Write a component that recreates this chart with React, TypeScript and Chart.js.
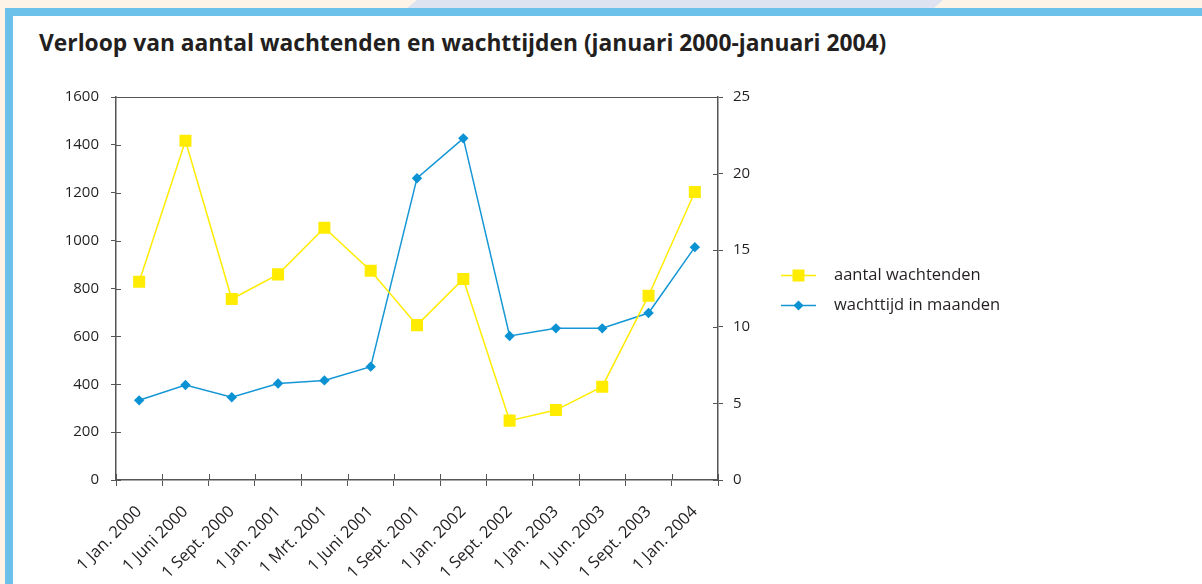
import React, { useEffect, useRef } from 'react';
import { Chart, registerables } from 'chart.js';

Chart.register(...registerables);

const categories = [
  '1 Jan. 2000', '1 Juni 2000', '1 Sept. 2000', '1 Jan. 2001', '1 Mrt. 2001', '1 Juni 2001',
  '1 Sept. 2001', '1 Jan. 2002', '1 Sept. 2002', '1 Jan. 2003', '1 Jun. 2003', '1 Sept. 2003', '1 Jan. 2004',
];
const aantalWachtenden = [828, 1417, 756, 859, 1054, 874, 647, 840, 248, 292, 390, 770, 1203];
const wachttijdInMaanden = [5.2, 6.2, 5.4, 6.3, 6.5, 7.4, 19.7, 22.3, 9.4, 9.9, 9.9, 10.9, 15.2];
const leftAxis = { min: 0, max: 1600, step: 200 };
const rightAxis = { min: 0, max: 25, step: 5 };
const seriesLabels = ['aantal wachtenden', 'wachttijd in maanden'];
const title = 'Verloop van aantal wachtenden en wachttijden (januari 2000-januari 2004)';

const AXIS = '#555555';
const TEXT = '#231f20';
const YELLOW = '#ffec00';
const BLUE = '#1597d5';
const FONT = "'Open Sans', 'Noto Sans', sans-serif";

const framePlugin = {
  id: 'framePlugin',
  afterDraw(chart: any) {
    const { ctx, chartArea, scales } = chart;
    const { left, right, top, bottom } = chartArea;
    ctx.save();
    ctx.strokeStyle = AXIS;
    ctx.lineWidth = 1;
    ctx.beginPath();
    ctx.moveTo(left, top + 0.5);
    ctx.lineTo(right, top + 0.5);
    const y = scales.y;
    y.ticks.forEach((_t: any, i: number) => {
      const py = Math.round(y.getPixelForTick(i)) + 0.5;
      ctx.moveTo(left, py);
      ctx.lineTo(left + 5, py);
    });
    const y1 = scales.y1;
    y1.ticks.forEach((_t: any, i: number) => {
      const py = Math.round(y1.getPixelForTick(i)) + 0.5;
      ctx.moveTo(right, py);
      ctx.lineTo(right - 5, py);
    });
    const x = scales.x;
    for (let i = 0; i <= categories.length; i++) {
      const px = Math.round(x.getPixelForValue(i - 0.5)) + 0.5;
      ctx.moveTo(px, bottom);
      ctx.lineTo(px, bottom - 6);
    }
    ctx.stroke();

    // legend
    const lx = right + 63;
    const ly0 = (top + bottom) / 2 - 13;
    chart.data.datasets.forEach((ds: any, i: number) => {
      const ly = ly0 + i * 30;
      ctx.strokeStyle = ds.borderColor;
      ctx.lineWidth = 1.5;
      ctx.beginPath();
      ctx.moveTo(lx, ly);
      ctx.lineTo(lx + 35, ly);
      ctx.stroke();
      ctx.fillStyle = ds.pointBackgroundColor;
      const cx = lx + 17.5;
      ctx.beginPath();
      if (ds.pointStyle === 'rect') {
        ctx.rect(cx - 6, ly - 6, 12, 12);
      } else {
        ctx.moveTo(cx, ly - 5);
        ctx.lineTo(cx + 5, ly);
        ctx.lineTo(cx, ly + 5);
        ctx.lineTo(cx - 5, ly);
        ctx.closePath();
      }
      ctx.fill();
      ctx.fillStyle = TEXT;
      ctx.font = `16.5px ${FONT}`;
      ctx.textAlign = 'left';
      ctx.textBaseline = 'middle';
      ctx.fillText(ds.label, lx + 53, ly);
    });
    ctx.restore();
  },
};

export default function App() {
  const ref = useRef<HTMLCanvasElement | null>(null);

  useEffect(() => {
    if (!ref.current) return;
    const tickFont = { family: FONT, size: 15 };
    const chart = new Chart(ref.current, {
      type: 'line',
      data: {
        labels: categories,
        datasets: [
          {
            label: seriesLabels[0],
            data: aantalWachtenden,
            yAxisID: 'y',
            borderColor: YELLOW,
            backgroundColor: YELLOW,
            pointBackgroundColor: YELLOW,
            borderWidth: 1.5,
            pointStyle: 'rect',
            pointRadius: 8.5,
            pointBorderWidth: 0,
            tension: 0,
          },
          {
            label: seriesLabels[1],
            data: wachttijdInMaanden,
            yAxisID: 'y1',
            borderColor: BLUE,
            backgroundColor: BLUE,
            pointBackgroundColor: '#0a92d3',
            borderWidth: 1.5,
            pointStyle: 'rectRot',
            pointRadius: 5.2,
            pointBorderWidth: 0,
            tension: 0,
          },
        ],
      },
      options: {
        animation: false,
        responsive: false,
        maintainAspectRatio: false,
        layout: { padding: { top: 97, right: 1202 - 718 - 60, left: 0, bottom: 0 } },
        plugins: { legend: { display: false }, tooltip: { enabled: false }, title: { display: false } },
        scales: {
          x: {
            type: 'category',
            offset: true,
            grid: { offset: true, drawOnChartArea: false, tickLength: 6, color: AXIS, lineWidth: 1 },
            border: { display: true, color: AXIS, width: 1.5 },
            ticks: { minRotation: 45, maxRotation: 45, autoSkip: false, color: TEXT, font: { family: FONT, size: 16.5 }, padding: 16 },
            afterFit: (s: any) => { s.height = 104; },
          },
          y: {
            position: 'left',
            min: leftAxis.min,
            max: leftAxis.max,
            grid: { drawOnChartArea: false, tickLength: 5, color: AXIS, lineWidth: 1 },
            border: { display: true, color: AXIS, width: 1.5 },
            ticks: { stepSize: leftAxis.step, color: TEXT, font: tickFont, padding: 12, callback: (v: any) => String(v) },
            afterFit: (s: any) => { s.width = 116; },
          },
          y1: {
            position: 'right',
            min: rightAxis.min,
            max: rightAxis.max,
            grid: { drawOnChartArea: false, tickLength: 5, color: AXIS, lineWidth: 1 },
            border: { display: true, color: AXIS, width: 1.5 },
            ticks: { stepSize: rightAxis.step, color: TEXT, font: tickFont, padding: 10, callback: (v: any) => String(v) },
            afterFit: (s: any) => { s.width = 60; },
          },
        },
      },
      plugins: [framePlugin],
    } as any);
    return () => chart.destroy();
  }, []);

  return (
    <div style={{ position: 'fixed', left: 0, top: 0, width: 1202, height: 584, background: '#fdf3e6', overflow: 'hidden' }}>
      <div
        style={{
          position: 'absolute', left: 407, top: 0, width: 536, height: 8, background: '#dde3f1',
          clipPath: 'polygon(10px 0, 100% 0, calc(100% - 9px) 100%, 0 100%)',
        }}
      />
      <div style={{ position: 'absolute', left: 5, top: 8, right: 0, height: 8, background: '#6cc1ea' }} />
      <div style={{ position: 'absolute', left: 5, top: 8, width: 8, bottom: 0, background: '#6cc1ea' }} />
      <div style={{ position: 'absolute', left: 13, top: 16, right: 0, bottom: 0, background: '#ffffff' }} />
      <div
        style={{
          position: 'absolute', left: 39, top: 31, fontFamily: FONT, fontWeight: 700, fontSize: 22.8,
          lineHeight: '24px', color: TEXT, whiteSpace: 'nowrap',
        }}
      >
        {title}
      </div>
      <canvas ref={ref} width={1202} height={584} style={{ position: 'absolute', left: 0, top: 0, width: 1202, height: 584 }} />
    </div>
  );
}
